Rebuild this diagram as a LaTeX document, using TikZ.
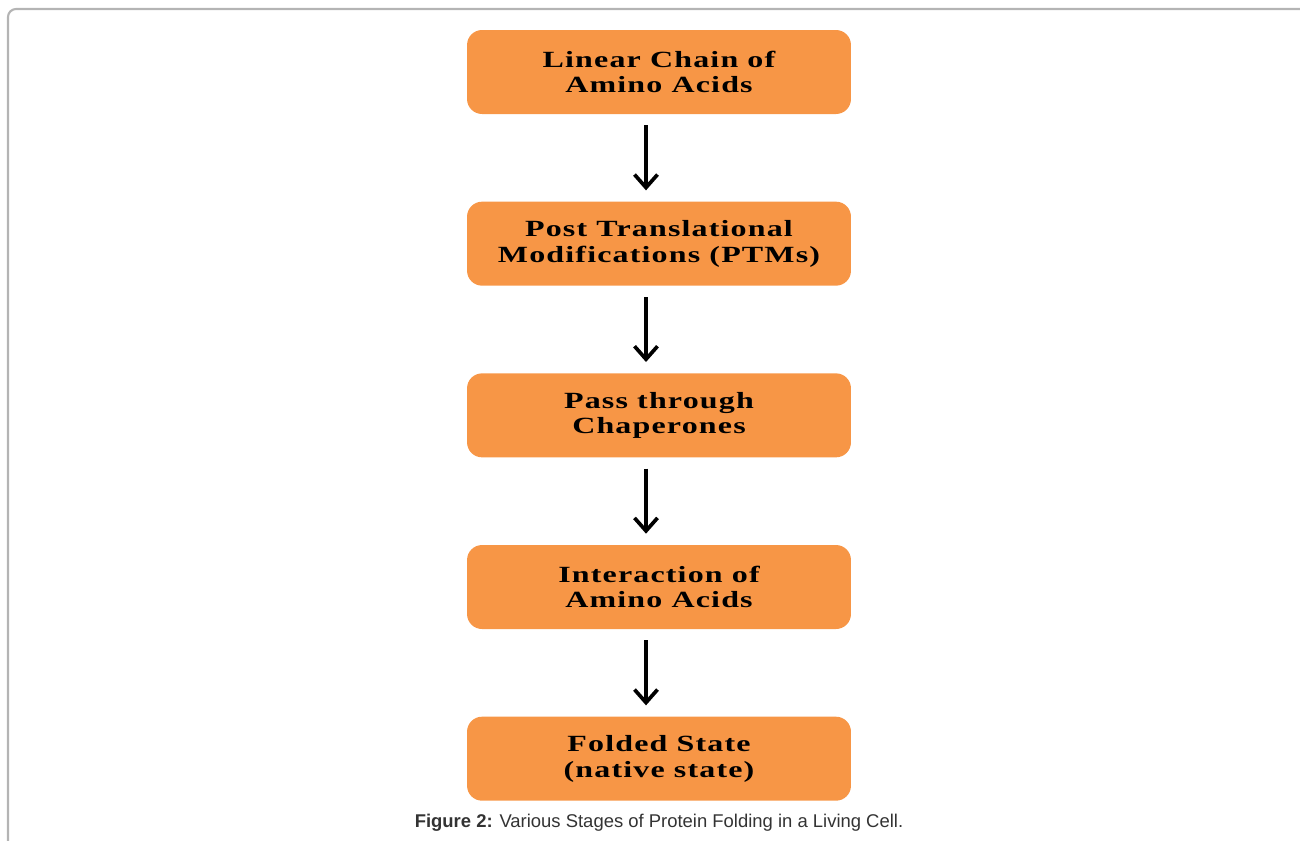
\documentclass[tikz,border=0pt]{standalone}
\usepackage{fontspec}
\setmainfont{Liberation Serif}
\newfontfamily\stagefont[FakeStretch=1.38,LetterSpace=5]{Liberation Serif}
\newfontfamily\capfont{Liberation Sans}
\usetikzlibrary{positioning,arrows.meta}

\definecolor{stageorange}{HTML}{F79646}
\definecolor{framegray}{HTML}{B4B4B4}
\definecolor{captext}{HTML}{333333}

\begin{document}
\begin{tikzpicture}[
  x=0.02cm,y=-0.02cm,
  node distance=1.74cm,
  stage/.style={rectangle,rounded corners=0.3cm,fill=stageorange,draw=none,
                minimum width=7.68cm,minimum height=1.68cm,align=center,
                font=\stagefont\bfseries\fontsize{13.2}{14.7}\selectfont,inner sep=2pt},
  arr/.style={-{Straight Barb[length=2.6mm,width=4.6mm]},line width=2.1pt,
              shorten <=0.22cm,shorten >=0.22cm},
]
\useasboundingbox (0,0) rectangle (1300,840);
\draw[framegray,line width=1.2pt,rounded corners=0.16cm] (8,9) rectangle (1320,860);

\node[stage] (chain) at (659,72) {Linear Chain of\\Amino Acids};
\node[stage,below=of chain] (ptm) {Post Translational\\Modifications (PTMs)};
\node[stage,below=of ptm] (chap) {Pass through\\Chaperones};
\node[stage,below=of chap] (inter) {Interaction of\\Amino Acids};
\node[stage,below=of inter] (fold) {Folded State\\(native state)};

\draw[arr] ([xshift=-0.26cm]chain.south) -- ([xshift=-0.26cm]ptm.north);
\draw[arr] ([xshift=-0.26cm]ptm.south) -- ([xshift=-0.26cm]chap.north);
\draw[arr] ([xshift=-0.26cm]chap.south) -- ([xshift=-0.26cm]inter.north);
\draw[arr] ([xshift=-0.26cm]inter.south) -- ([xshift=-0.26cm]fold.north);

\node[font=\capfont\fontsize{10.5}{12}\selectfont,text=captext] (cap) at (659,823)
  {\textbf{Figure 2:} Various Stages of Protein Folding in a Living Cell.};
\end{tikzpicture}
\end{document}
